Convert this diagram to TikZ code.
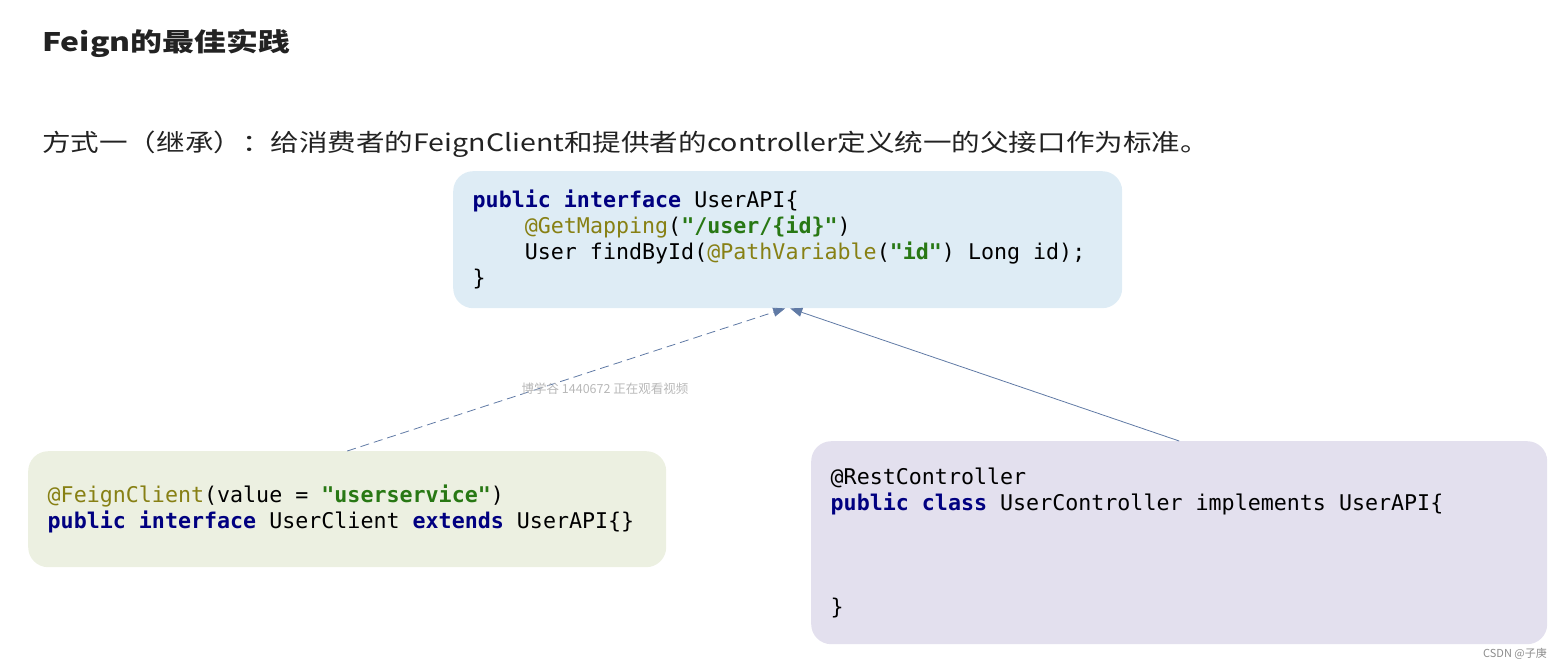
\documentclass[tikz,border=0pt]{standalone}
\usepackage{fontspec}
\usepackage{xcolor}
\setmainfont{Noto Sans CJK SC}[FakeStretch=1.19]
\setmonofont{DejaVu Sans Mono}
\newfontfamily\titlefont{Noto Sans CJK SC}[FakeStretch=1.25]
\newfontfamily\markfont{Noto Sans CJK SC}
\usetikzlibrary{arrows.meta,positioning}
\definecolor{apiblue}{RGB}{222,236,245}
\definecolor{clientgreen}{RGB}{236,240,225}
\definecolor{ctrlviolet}{RGB}{227,224,238}
\definecolor{kwnavy}{RGB}{0,0,128}
\definecolor{annolive}{RGB}{135,128,20}
\definecolor{strgreen}{RGB}{40,120,20}
\definecolor{linkblue}{RGB}{96,122,165}
\definecolor{headgray}{RGB}{34,34,34}
\newcommand\kwd[1]{{\bfseries\color{kwnavy}#1}}
\newcommand\anno[1]{{\color{annolive}#1}}
\newcommand\strg[1]{{\bfseries\color{strgreen}#1}}
\newcommand\gap{\hspace{0.602em}}
\newcommand\ind{\hphantom{xxxx}}
\begin{document}
\begin{tikzpicture}[
  x=1pt, y=-1pt,
  codebox/.style={rounded corners=20pt, inner ysep=0pt, inner xsep=19.5pt, align=left, anchor=north west,
    font=\ttfamily\fontsize{21.65}{26}\selectfont, text=black},
  headtext/.style={inner sep=0pt, anchor=base west, text=headgray},
  link/.style={-{Triangle[length=12pt,width=9pt]}, draw=linkblue, line width=0.8pt},
  overlaytext/.style={inner sep=0pt, text=black!28}
]
\useasboundingbox (0,0) rectangle (1565,669);
\node[headtext, font=\titlefont\bfseries\fontsize{25.5}{30}\selectfont] (title) at (42,52) {Feign的最佳实践};
\node[headtext, font=\fontsize{24}{28}\selectfont] (intro) at (42,151) {方式一（继承）：给消费者的FeignClient和提供者的controller定义统一的父接口作为标准。};
\node[codebox, fill=apiblue, text width=630pt, minimum height=137pt] (api) at (453,171) {%
\kwd{public}\gap\kwd{interface}\gap UserAPI\{\\
\ind\anno{@GetMapping}(\strg{"/user/\{id\}"})\\
\ind User\gap findById(\anno{@PathVariable}(\strg{"id"})\gap Long\gap id);\\
\}};
\node[codebox, fill=clientgreen, text width=599pt, minimum height=116pt] (client) at (28,451) {%
\anno{@FeignClient}(value\gap=\gap\strg{"userservice"})\\
\kwd{public}\gap\kwd{interface}\gap UserClient\gap\kwd{extends}\gap UserAPI\{\}};
\node[codebox, fill=ctrlviolet, text width=697pt, minimum height=203pt] (ctrl) at (811,441) {%
@RestController\\
\kwd{public}\gap\kwd{class}\gap UserController\gap implements\gap UserAPI\{\\
\mbox{}\\
\mbox{}\\
\mbox{}\\
\}};
\draw[link, dashed, dash pattern=on 9pt off 5pt] (client.north) -- ([xshift=-2.5pt]api.south);
\draw[link] (ctrl.north) -- ([xshift=2.5pt]api.south);
\node[overlaytext, font=\markfont\fontsize{12.5}{14}\selectfont] (viewer) at (605,389) {博学谷 1440672 正在观看视频};
\node[overlaytext, anchor=east, text=black!45, font=\markfont\fontsize{11}{13}\selectfont] (csdn) at (1547,654) {CSDN @子庚};
\end{tikzpicture}
\end{document}
